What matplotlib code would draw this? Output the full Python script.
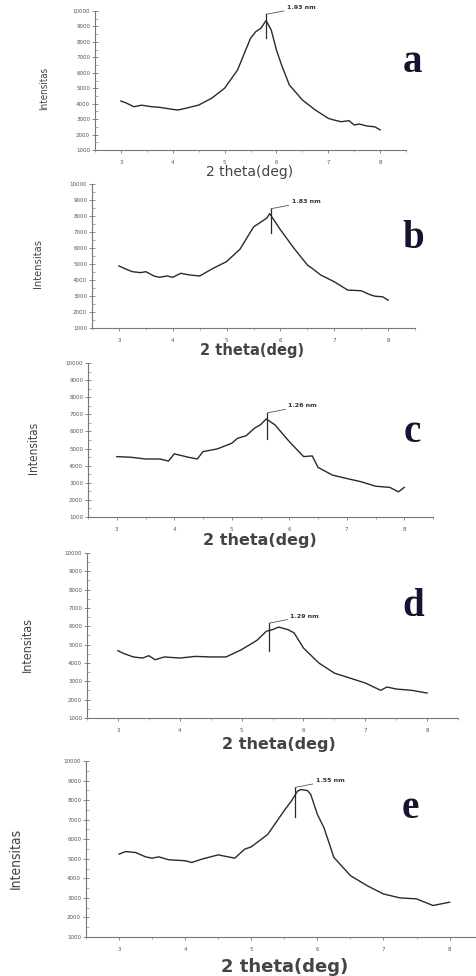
import numpy as np
import matplotlib
matplotlib.use('Agg')
import matplotlib.pyplot as plt
from matplotlib.ticker import MultipleLocator

# values (2 theta in deg, intensity in counts)
theta_a = [3.0, 3.1, 3.25, 3.4, 3.5, 3.6, 3.75, 4.0, 4.1, 4.25, 4.5, 4.75, 5.0, 5.25, 5.5, 5.6, 5.7,
           5.8, 5.9, 6.0, 6.1, 6.25, 6.5, 6.75, 7.0, 7.1, 7.25, 7.4, 7.5, 7.6, 7.75, 7.9, 8.0]
int_a = [4170, 4050, 3800, 3900, 3850, 3800, 3760, 3630, 3590, 3700, 3910, 4350, 5000, 6180, 8230, 8660, 8880,
         9380, 8770, 7480, 6500, 5210, 4240, 3590, 3050, 2950, 2830, 2900, 2620, 2680, 2550, 2500, 2300]

theta_b = [3.0, 3.15, 3.25, 3.4, 3.5, 3.65, 3.75, 3.9, 4.0, 4.15, 4.25, 4.35, 4.5, 4.75, 5.0, 5.25, 5.5,
           5.75, 5.8, 6.0, 6.25, 6.5, 6.6, 6.75, 7.0, 7.25, 7.5, 7.65, 7.75, 7.9, 8.0]
int_b = [4880, 4650, 4520, 4460, 4520, 4250, 4170, 4250, 4170, 4420, 4350, 4300, 4250, 4730, 5150, 5930, 7310,
         7880, 8150, 7140, 5990, 4940, 4700, 4310, 3890, 3370, 3330, 3100, 2990, 2950, 2740]

theta_c = [3.0, 3.25, 3.5, 3.75, 3.9, 4.0, 4.25, 4.4, 4.5, 4.75, 5.0, 5.1, 5.25, 5.4, 5.5, 5.6, 5.75,
           6.0, 6.25, 6.4, 6.5, 6.75, 7.0, 7.25, 7.5, 7.75, 7.9, 8.0]
int_c = [4530, 4490, 4390, 4390, 4270, 4690, 4490, 4390, 4820, 4980, 5310, 5600, 5750, 6200, 6390, 6730, 6390,
         5410, 4530, 4570, 3900, 3450, 3250, 3060, 2800, 2730, 2470, 2730]

theta_d = [3.0, 3.1, 3.25, 3.4, 3.5, 3.6, 3.75, 4.0, 4.25, 4.5, 4.75, 5.0, 5.25, 5.4, 5.5, 5.6,
           5.75, 5.85, 6.0, 6.25, 6.5, 6.75, 7.0, 7.25, 7.35, 7.5, 7.75, 8.0]
int_d = [4670, 4510, 4330, 4270, 4400, 4180, 4330, 4270, 4360, 4330, 4330, 4730, 5240, 5730, 5820, 5960,
         5820, 5640, 4820, 4000, 3450, 3180, 2910, 2510, 2690, 2580, 2510, 2360]

theta_e = [3.0, 3.1, 3.25, 3.4, 3.5, 3.6, 3.75, 4.0, 4.1, 4.25, 4.5, 4.75, 4.9, 5.0, 5.25, 5.5,
           5.6, 5.7, 5.75, 5.85, 5.9, 6.0, 6.1, 6.25, 6.5, 6.75, 7.0, 7.25, 7.5, 7.75, 8.0]
int_e = [5240, 5370, 5320, 5100, 5030, 5100, 4950, 4900, 4810, 4980, 5200, 5030, 5490, 5610, 6250, 7470,
         7920, 8460, 8540, 8490, 8290, 7270, 6590, 5070, 4140, 3630, 3200, 3000, 2950, 2610, 2780]

letters = ['a', 'b', 'c', 'd', 'e']
spacings = ['1.93 nm', '1.83 nm', '1.26 nm', '1.29 nm', '1.55 nm']
peak_theta = [5.8, 5.82, 5.62, 5.45, 5.66]
y_ticks = [1000, 2000, 3000, 4000, 5000, 6000, 7000, 8000, 9000, 10000]
x_ticks = [3, 4, 5, 6, 7, 8]

W, H = 476, 976
# axes boxes in pixels: left, top, right, bottom
boxes = [(95, 11, 406, 150), (92, 184, 415, 328), (88, 363, 433, 517),
         (87, 553, 458, 718), (86, 761, 476, 937)]
xmax = [8.5, 8.5, 8.5, 8.5, 8.4]
ylab_pos = [(44, 88, 7), (38, 263, 8), (34, 448, 8.5), (27, 645, 9), (16, 858, 10)]
xlab_pos = [(250, 172, 10, 'normal'), (252, 350, 10.5, 'bold'), (260, 541, 11.5, 'bold'),
            (279, 744, 11.5, 'bold'), (285, 967, 13, 'bold')]
letter_pos = [(412, 63), (413, 238), (412, 432), (413, 607), (410, 808)]

data = [(theta_a, int_a), (theta_b, int_b), (theta_c, int_c), (theta_d, int_d), (theta_e, int_e)]

fig = plt.figure(figsize=(W / 100, H / 100), dpi=100)

for i, (tx, iy) in enumerate(data):
    l, t, r, b = boxes[i]
    ax = fig.add_axes([l / W, 1 - b / H, (r - l) / W, (b - t) / H])
    ax.plot(tx, iy, color='#2a2a2a', lw=1.0)
    ax.set_xlim(2.5, xmax[i])
    ax.set_ylim(1000, 10000)
    ax.set_xticks(x_ticks)
    ax.set_yticks(y_ticks)
    ax.xaxis.set_minor_locator(MultipleLocator(0.5))
    ax.yaxis.set_minor_locator(MultipleLocator(500))
    ax.spines['top'].set_visible(False)
    ax.spines['right'].set_visible(False)
    for s in ['left', 'bottom']:
        ax.spines[s].set_color('#777777')
        ax.spines[s].set_linewidth(0.8)
    ax.tick_params(axis='y', which='major', direction='inout', length=4, width=0.6,
                   colors='#777777', labelsize=4, labelcolor='#555555', pad=1.5)
    ax.tick_params(axis='y', which='minor', direction='in', length=2, width=0.5, colors='#888888')
    ax.tick_params(axis='x', which='major', direction='out', length=2.5, width=0.6,
                   colors='#777777', labelsize=4, labelcolor='#555555', pad=5)
    ax.tick_params(axis='x', which='minor', direction='out', length=1.5, width=0.5, colors='#888888')
    ax.patch.set_alpha(0)

    # peak marker with leader line and d-spacing text
    xp = peak_theta[i]
    yp = float(np.interp(xp, tx, iy))
    ax.plot([xp, xp], [yp - 1100, yp + 400], color='#2a2a2a', lw=0.9)
    ax.annotate(spacings[i], xy=(xp, yp + 400), xytext=(15, 5), textcoords='offset points',
                fontsize=4.5, fontweight='bold', color='#333333', va='center', ha='left',
                arrowprops=dict(arrowstyle='-', color='#555555', lw=0.6, shrinkA=0, shrinkB=0))

    x0, y0, fs = ylab_pos[i]
    fig.text(x0 / W, 1 - y0 / H, 'Intensitas', rotation=90, ha='center', va='center',
             fontsize=fs, color='#444444', fontstretch='condensed',
             family=['Liberation Sans Narrow', 'DejaVu Sans'])
    x0, y0, fs, fw = xlab_pos[i]
    fig.text(x0 / W, 1 - y0 / H, '2 theta(deg)', ha='center', va='center',
             fontsize=fs, fontweight=fw, color='#444444')
    x0, y0 = letter_pos[i]
    fig.text(x0 / W, 1 - y0 / H, letters[i], ha='center', va='center', fontsize=28,
             fontweight='bold', color='#141430', family=['Liberation Serif', 'DejaVu Serif'])

fig.savefig('out.png', dpi=100)
